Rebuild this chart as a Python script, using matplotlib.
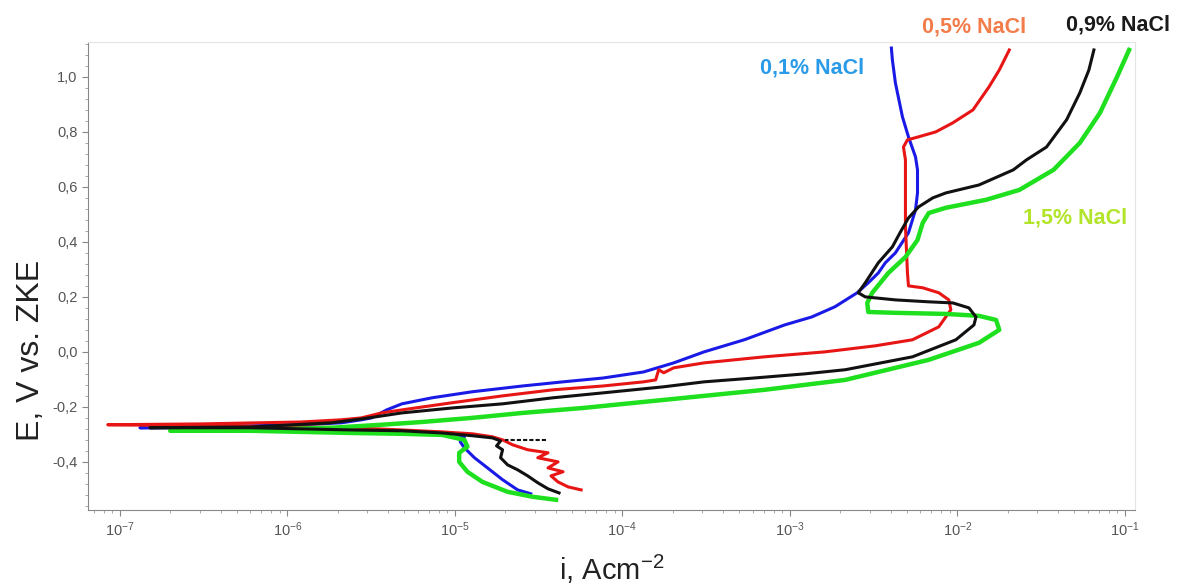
import numpy as np
import matplotlib.pyplot as plt
from matplotlib.ticker import MultipleLocator, FuncFormatter, LogLocator

plt.rcParams['font.family'] = ['Liberation Sans', 'DejaVu Sans']
plt.rcParams['mathtext.fontset'] = 'custom'
plt.rcParams['mathtext.rm'] = 'Liberation Sans'
plt.rcParams['mathtext.it'] = 'Liberation Sans'

# log10(i) and E values, one path per curve
# (cathodic end -> corrosion potential spike -> anodic branch)
blue_logi = [-4.547, -4.625, -4.715, -4.805, -4.883, -4.943, -4.968, -4.943, -5.016, -5.196,
             -5.437, -5.617, -5.918, -6.218, -6.519, -6.880, -6.519, -5.918, -5.677, -5.557,
             -5.497, -5.407, -5.316, -5.136, -4.895, -4.595, -4.354, -4.114, -3.873, -3.693,
             -3.512, -3.272, -3.031, -2.869, -2.731, -2.598, -2.532, -2.472, -2.430, -2.370,
             -2.292, -2.250, -2.238, -2.238, -2.250, -2.292, -2.328, -2.370, -2.388, -2.394]
blue_E = [-0.516, -0.502, -0.465, -0.422, -0.385, -0.349, -0.327, -0.309, -0.295, -0.291,
          -0.291, -0.287, -0.284, -0.280, -0.276, -0.276, -0.273, -0.265, -0.258, -0.247,
          -0.240, -0.211, -0.189, -0.167, -0.145, -0.124, -0.109, -0.095, -0.073, -0.040,
          0.000, 0.044, 0.098, 0.127, 0.164, 0.215, 0.251, 0.287, 0.324, 0.360,
          0.433, 0.516, 0.578, 0.662, 0.709, 0.782, 0.855, 0.978, 1.062, 1.105]

red_logi = [-4.246, -4.324, -4.384, -4.426, -4.354, -4.444, -4.384, -4.505, -4.444, -4.565,
            -4.655, -4.715, -4.775, -4.895, -5.076, -5.316, -5.617, -5.918, -6.519, -7.072,
            -6.519, -5.918, -5.677, -5.557, -5.437, -5.316, -5.016, -4.715, -4.414, -4.114,
            -3.873, -3.801, -3.783, -3.753, -3.693, -3.512, -3.152, -2.791, -2.490, -2.268,
            -2.111, -2.039, -2.051, -2.111, -2.207, -2.292, -2.298, -2.304, -2.310, -2.310,
            -2.310, -2.322, -2.298, -2.232, -2.129, -2.027, -1.907, -1.811, -1.750, -1.690]
red_E = [-0.502, -0.491, -0.473, -0.451, -0.436, -0.422, -0.400, -0.385, -0.367, -0.356,
         -0.338, -0.320, -0.309, -0.298, -0.291, -0.284, -0.276, -0.273, -0.269, -0.265,
         -0.262, -0.255, -0.247, -0.240, -0.222, -0.211, -0.185, -0.160, -0.138, -0.124,
         -0.109, -0.102, -0.065, -0.076, -0.058, -0.040, -0.018, 0.000, 0.022, 0.044,
         0.091, 0.153, 0.189, 0.215, 0.233, 0.240, 0.287, 0.371, 0.455, 0.589,
         0.698, 0.745, 0.771, 0.782, 0.800, 0.833, 0.880, 0.964, 1.025, 1.098]

black_logi = [-4.378, -4.444, -4.505, -4.565, -4.625, -4.685, -4.727, -4.715, -4.751, -4.727,
              -4.775, -4.895, -5.076, -5.316, -5.617, -5.918, -6.218, -6.820, -6.218, -5.737,
              -5.557, -5.316, -5.016, -4.715, -4.414, -4.114, -3.753, -3.512, -3.212, -2.911,
              -2.670, -2.268, -2.009, -1.901, -1.889, -1.931, -2.027, -2.171, -2.370, -2.550,
              -2.592, -2.550, -2.472, -2.388, -2.340, -2.292, -2.232, -2.147, -2.069, -1.871,
              -1.666, -1.588, -1.468, -1.348, -1.269, -1.215, -1.185]
black_E = [-0.513, -0.498, -0.476, -0.451, -0.429, -0.411, -0.385, -0.356, -0.342, -0.324,
           -0.313, -0.305, -0.295, -0.287, -0.284, -0.280, -0.276, -0.276, -0.273, -0.258,
           -0.244, -0.222, -0.204, -0.189, -0.167, -0.149, -0.127, -0.109, -0.095, -0.080,
           -0.065, -0.018, 0.044, 0.098, 0.127, 0.160, 0.178, 0.182, 0.189, 0.200,
           0.215, 0.251, 0.324, 0.382, 0.436, 0.487, 0.527, 0.560, 0.578, 0.607,
           0.662, 0.698, 0.745, 0.844, 0.942, 1.025, 1.098]
black_tail_logi = [-4.456, -4.70]
black_tail_E = [-0.320, -0.320]

green_logi = [-4.396, -4.535, -4.685, -4.835, -4.925, -4.974, -4.974, -4.925, -4.943, -5.076,
              -5.316, -5.617, -5.918, -6.218, -6.699, -6.218, -5.737, -5.437, -5.196, -4.895,
              -4.595, -4.234, -3.873, -3.512, -3.152, -2.670, -2.171, -1.871, -1.750, -1.769,
              -1.871, -2.069, -2.370, -2.532, -2.538, -2.508, -2.412, -2.310, -2.238, -2.207,
              -2.171, -2.069, -1.829, -1.630, -1.426, -1.269, -1.149, -1.047, -0.975]
green_E = [-0.538, -0.527, -0.509, -0.473, -0.436, -0.400, -0.367, -0.345, -0.320, -0.302,
           -0.298, -0.295, -0.291, -0.287, -0.287, -0.284, -0.276, -0.265, -0.255, -0.240,
           -0.222, -0.204, -0.182, -0.160, -0.138, -0.102, -0.029, 0.033, 0.080, 0.116,
           0.131, 0.138, 0.142, 0.145, 0.178, 0.215, 0.287, 0.345, 0.407, 0.469,
           0.505, 0.524, 0.553, 0.589, 0.662, 0.760, 0.869, 1.000, 1.098]

labels = ['0,1% NaCl', '0,5% NaCl', '0,9% NaCl', '1,5% NaCl']
label_logi = [-2.87, -1.90, -1.04, -1.30]
label_E = [1.033, 1.182, 1.189, 0.487]
label_colors = ['#2a9be8', '#f27d4a', '#1a1a1a', '#b2e42a']


fig = plt.figure(figsize=(11.81, 5.88), dpi=100)
ax = fig.add_axes([0.0745, 0.1327, 0.8865, 0.7959])

ax.plot(10 ** np.array(blue_logi), blue_E, color='#1a1ae6', lw=2.2)
ax.plot(10 ** np.array(red_logi), red_E, color='#e81515', lw=2.2)
ax.plot(10 ** np.array(green_logi), green_E, color='#1ee01e', lw=3.2)
ax.plot(10 ** np.array(black_logi), black_E, color='#111111', lw=2.2)
ax.plot(10 ** np.array(black_tail_logi), black_tail_E, color='#111111', lw=1.5, ls=(0, (2, 1)))

for txt, lx, ly, c in zip(labels, label_logi, label_E, label_colors):
    ax.text(10 ** lx, ly, txt, color=c, fontsize=15.5, fontweight='bold',
            ha='center', va='center', clip_on=False)

ax.set_xscale('log')
ax.set_xlim(10 ** -7.19, 10 ** -0.94)
ax.set_ylim(-0.575, 1.127)
ax.xaxis.set_major_locator(LogLocator(base=10, numticks=12))
ax.yaxis.set_major_locator(MultipleLocator(0.2))
ax.yaxis.set_minor_locator(MultipleLocator(0.04))
ax.yaxis.set_major_formatter(FuncFormatter(lambda v, p: ('%.1f' % v).replace('.', ',').replace('-0,0', '0,0')))

ax.tick_params(axis='both', which='major', labelsize=10.5, labelcolor='#555555', color='#888888', length=4)
ax.tick_params(axis='both', which='minor', color='#999999', length=2)
for s in ['left', 'bottom']:
    ax.spines[s].set_color('#888888')
for s in ['top', 'right']:
    ax.spines[s].set_color('#e4e4e4')

ax.set_ylabel('E, V vs. ZKE', fontsize=23, color='#222222')
ax.yaxis.set_label_coords(-0.04, 0.34)
ax.set_xlabel('i, Acm$^{-2}$', fontsize=21, color='#222222', labelpad=10)

fig.savefig('out.png', dpi=100)
